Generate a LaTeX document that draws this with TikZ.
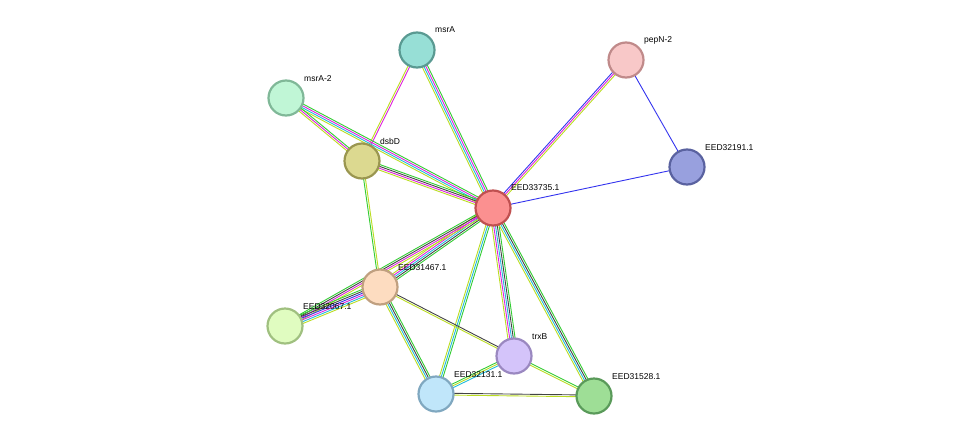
\documentclass[tikz,border=0pt]{standalone}
\usepackage{fontspec}
\setmainfont{Liberation Sans}
\usetikzlibrary{calc}
\pgfdeclarelayer{bg}\pgfsetlayers{bg,main}
\definecolor{cG}{HTML}{33CC33}
\definecolor{cY}{HTML}{BBDD22}
\definecolor{cC}{HTML}{22BBDD}
\definecolor{cM}{HTML}{DD22DD}
\definecolor{cK}{HTML}{444444}
\definecolor{cB}{HTML}{3333EE}
\definecolor{f1}{HTML}{97DFD6}\definecolor{s1}{HTML}{5A9A92}
\definecolor{f2}{HTML}{F8C8C8}\definecolor{s2}{HTML}{C08A8A}
\definecolor{f3}{HTML}{C0F6D6}\definecolor{s3}{HTML}{80B898}
\definecolor{f4}{HTML}{DCD990}\definecolor{s4}{HTML}{9A9650}
\definecolor{f5}{HTML}{FB9090}\definecolor{s5}{HTML}{C05050}
\definecolor{f6}{HTML}{98A0DE}\definecolor{s6}{HTML}{5A62A0}
\definecolor{f7}{HTML}{FDDCC0}\definecolor{s7}{HTML}{C0A080}
\definecolor{f8}{HTML}{E0FCC0}\definecolor{s8}{HTML}{A0C080}
\definecolor{f9}{HTML}{C0E6FA}\definecolor{s9}{HTML}{80A8C0}
\definecolor{f10}{HTML}{9EDE96}\definecolor{s10}{HTML}{5A9A5A}
\definecolor{f11}{HTML}{D4C4FA}\definecolor{s11}{HTML}{9A88C0}
\newcommand\medge[4]{%
 \foreach \c [count=\i] in {#4}{%
  \pgfmathsetmacro\o{(\i-(#3+1)/2)*1.8}%
  \draw[\c,line width=0.9pt] ($(#1)!\o pt!90:(#2)$) -- ($(#2)!\o pt!-90:(#1)$);}}
\tikzset{prot/.style={circle,minimum size=35pt,inner sep=0pt,line width=2.2pt,fill=f#1,draw=s#1},
 lab/.style={font=\fontsize{8.5}{10}\selectfont,anchor=south west,inner sep=0pt}}
\begin{document}
\begin{tikzpicture}[x=1pt,y=-1pt]
\useasboundingbox (0,0) rectangle (976,442);
\node[prot=1] (msrA) at (417,50) {};
\node[prot=2] (pepN) at (626,60) {};
\node[prot=3] (msrA2) at (286,98) {};
\node[prot=4] (dsbD) at (362,161) {};
\node[prot=5] (c) at (493,208) {};
\node[prot=6] (e191) at (687,167) {};
\node[prot=7] (e467) at (380,287) {};
\node[prot=8] (e067) at (285,326) {};
\node[prot=9] (e213) at (436,394) {};
\node[prot=10] (e528) at (594,396) {};
\node[lab] (l1) at (435,33) {msrA};
\node[lab] (l2) at (644,44) {pepN-2};
\node[lab] (l3) at (304,82) {msrA-2};
\node[lab] (l4) at (380,145) {dsbD};
\node[lab] (l5) at (511,191) {EED33735.1};
\node[lab] (l6) at (705,151) {EED32191.1};
\node[lab] (l7) at (398,271) {EED31467.1};
\node[lab] (l8) at (303,310) {EED32067.1};
\node[lab] (l9) at (454,378) {EED32131.1};
\node[lab] (l10) at (612,380) {EED31528.1};
\node[prot=11] (trxB) at (514,356) {};
\node[lab] (l11) at (532,340) {trxB};
\begin{pgfonlayer}{bg}
\medge{msrA}{c}{4}{cY,cC,cM,cG}
\medge{msrA}{dsbD}{2}{cY,cM}
\medge{msrA2}{c}{4}{cY,cC,cM,cG}
\medge{msrA2}{dsbD}{3}{cY,cM,cG}
\medge{dsbD}{c}{4}{cY,cM,cK,cG}
\medge{dsbD}{e467}{2}{cG,cY}
\medge{pepN}{c}{3}{cB,cM,cY}
\medge{pepN}{e191}{1}{cB}
\medge{c}{e191}{1}{cB}
\medge{c}{e467}{5}{cY,cM,cC,cK,cG}
\medge{e067}{c}{4}{cY,cM,cK,cG}
\medge{e067}{e467}{6}{cY,cC,cM,cB,cK,cG}
\medge{c}{trxB}{5}{cY,cM,cC,cK,cG}
\medge{c}{e213}{3}{cY,cC,cG}
\medge{c}{e528}{4}{cY,cC,cK,cG}
\medge{e467}{e213}{4}{cY,cC,cK,cG}
\medge{e467}{trxB}{2}{cY,cK}
\medge{trxB}{e213}{3}{cG,cY,cC}
\medge{trxB}{e528}{2}{cY,cG}
\medge{e213}{e528}{2}{cY,cK}
\end{pgfonlayer}
\end{tikzpicture}
\end{document}
